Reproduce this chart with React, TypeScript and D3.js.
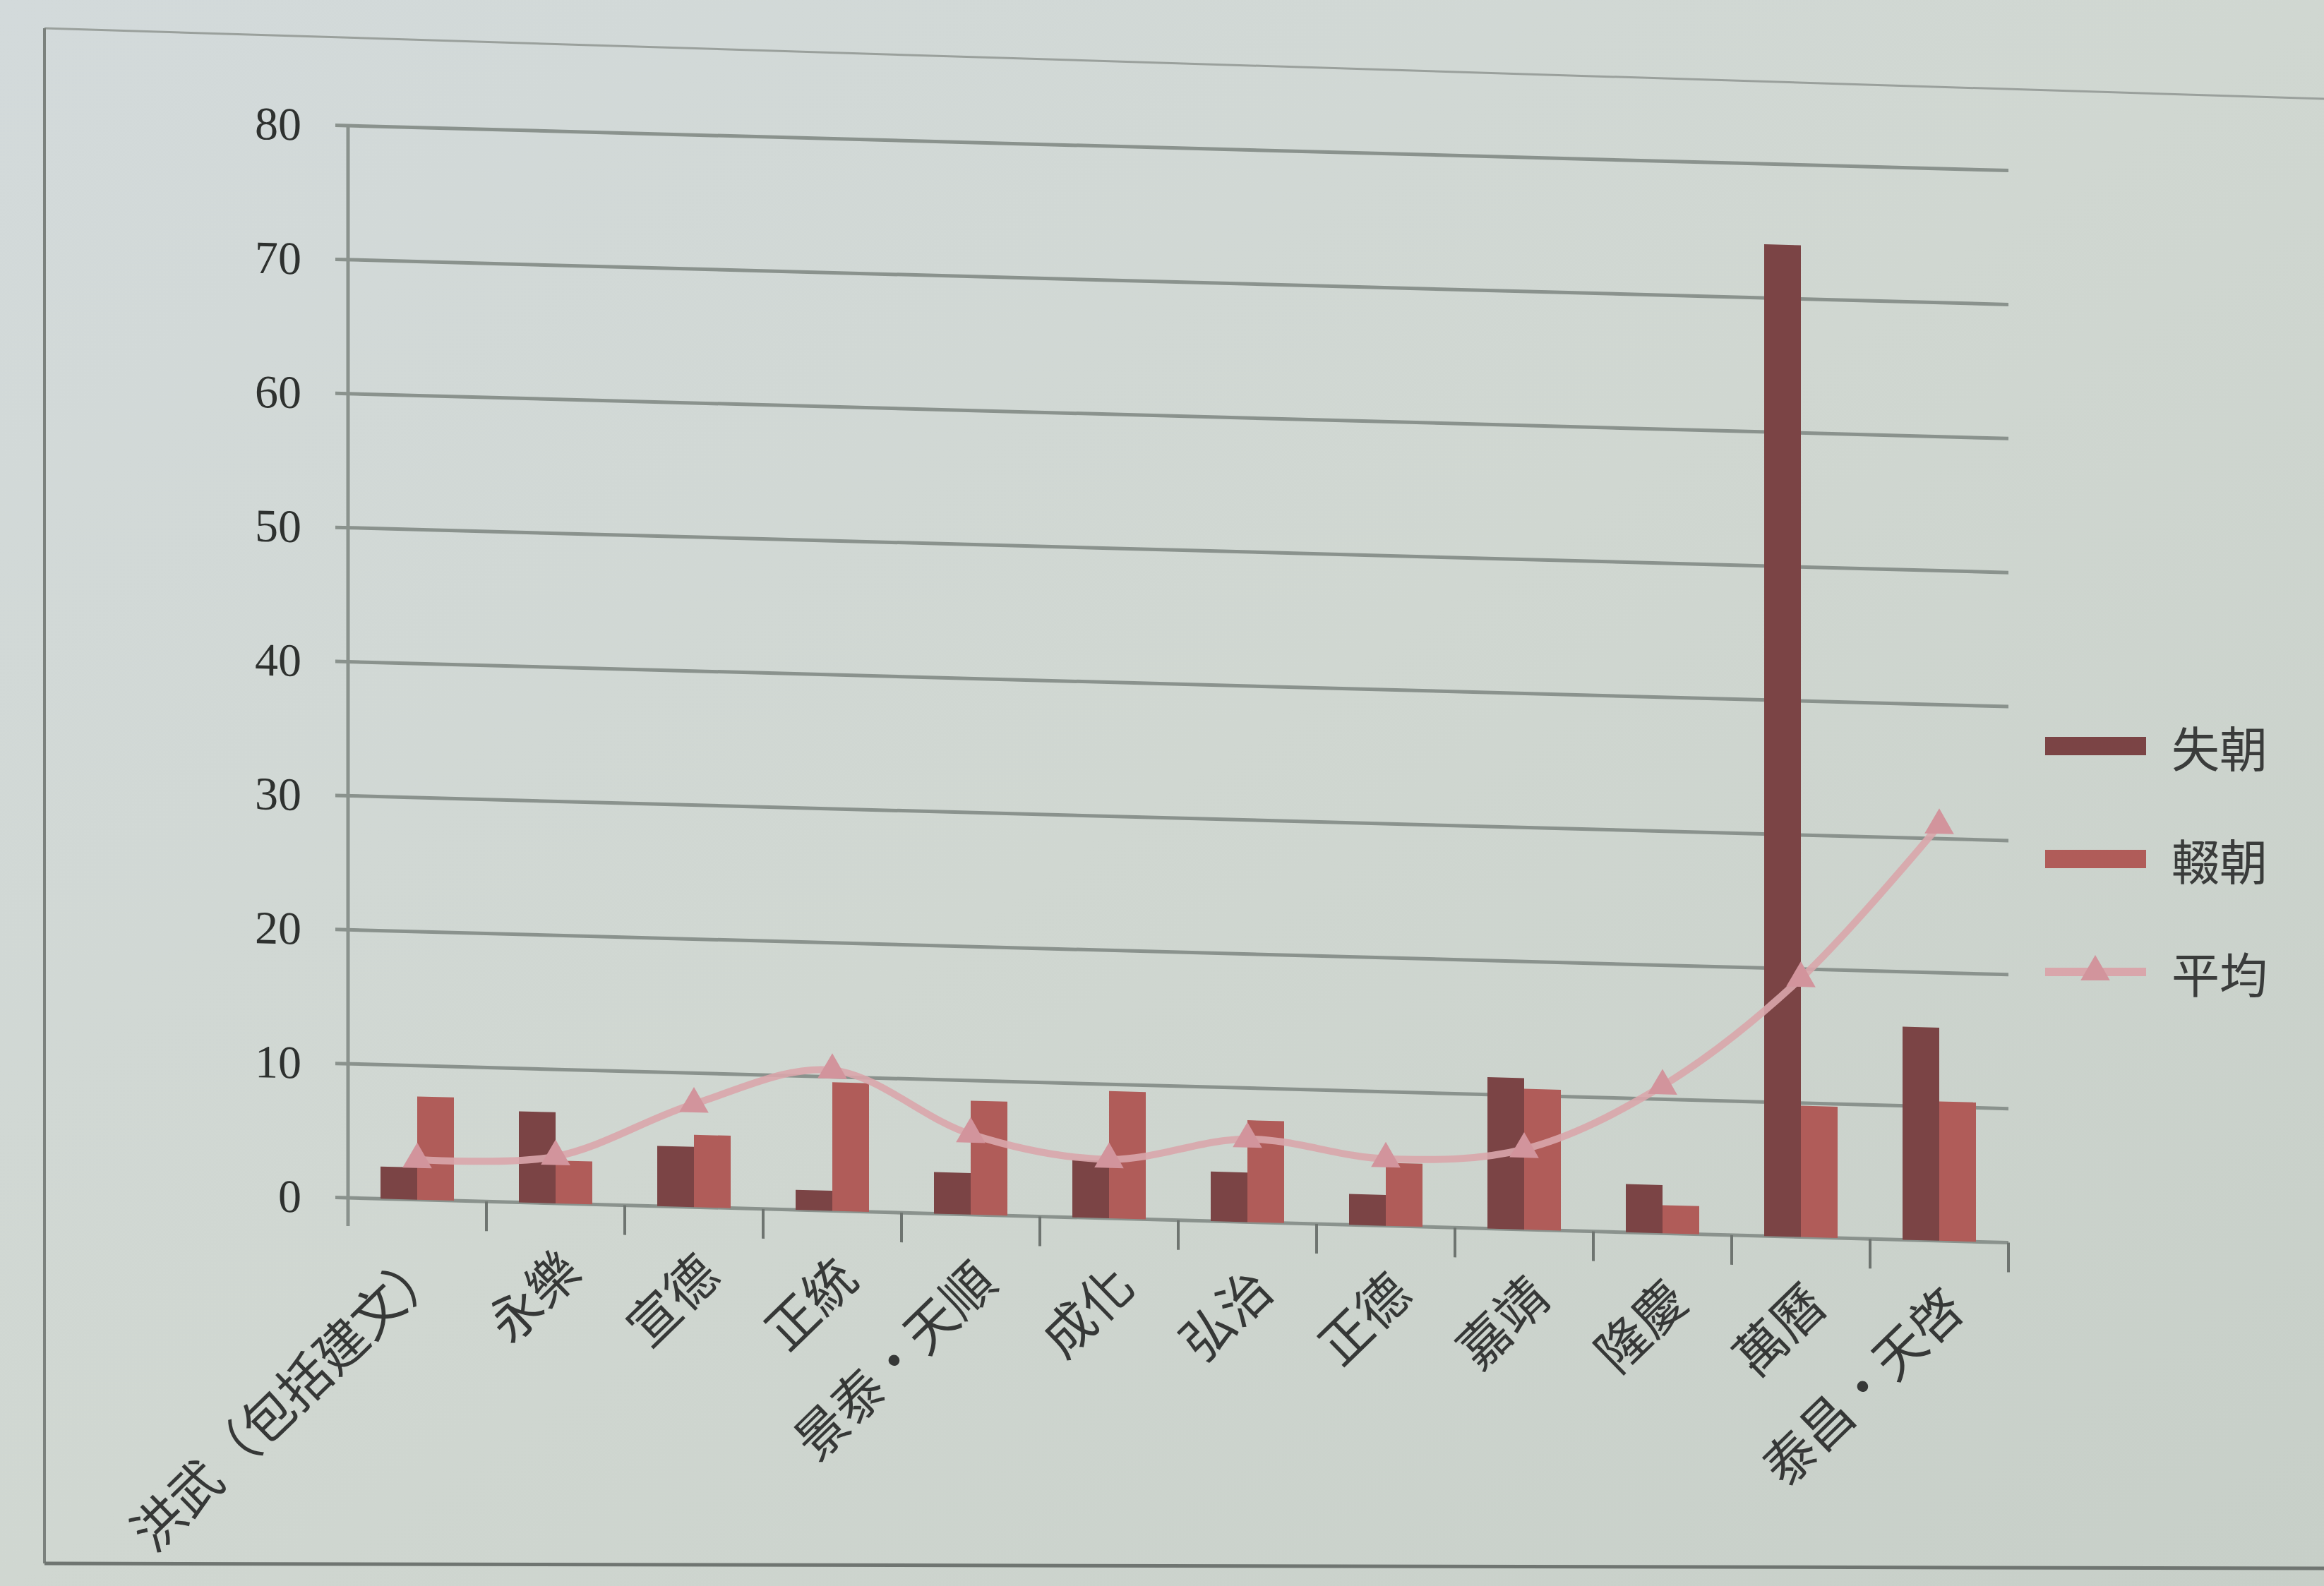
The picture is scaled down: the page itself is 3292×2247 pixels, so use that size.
import React from 'react';
import * as d3 from 'd3';

const categories = ['洪武（包括建文）', '永樂', '宣德', '正統', '景泰・天順', '成化', '弘治', '正德', '嘉靖', '隆慶', '萬曆', '泰昌・天啓'];
const seriesNames = ['失朝', '輟朝', '平均'];
const seriesA = [2.4, 6.8, 4.5, 1.5, 3.1, 4.3, 3.7, 2.3, 11.3, 3.6, 74, 15.9];
const seriesB = [7.7, 3.2, 5.4, 9.6, 8.5, 9.5, 7.6, 4.7, 10.5, 2.1, 9.8, 10.4];
const average = [3.0, 3.5, 7.7, 10.5, 6.0, 4.4, 6.2, 5.0, 6.0, 11.0, 19.3, 31.0];
const yTicks = [0, 10, 20, 30, 40, 50, 60, 70, 80];

const W = 3292;
const H = 2247;
const PLOT_LEFT = 493;
const PLOT_W = 2352;
const SKEW = 0.027;

const COLOR_A = '#7b4445';
const COLOR_B = '#b05c59';
const COLOR_AVG = '#d9a6ab';
const COLOR_MARK = '#d2949c';
const GRID = '#8a928d';

export default function App() {
  const x = d3.scaleBand<string>().domain(categories).range([0, PLOT_W]);
  const inner = d3.scaleBand<string>().domain(['a', 'b']).range([0, 104]);
  const y = d3.scaleLinear().domain([0, 80]).range([1697, 178]);
  const cx = (c: string) => (x(c) as number) + x.bandwidth() / 2;

  const line = d3
    .line<number>()
    .x((_, i) => cx(categories[i]))
    .y((d) => y(d))
    .curve(d3.curveCatmullRom.alpha(0.5));
  const tri = d3.symbol().type(d3.symbolTriangle).size(750)();

  const base = y(0);
  return (
    <svg width={W} height={H} style={{ position: 'absolute', left: 0, top: 0 }} xmlns="http://www.w3.org/2000/svg">
      <defs>
        <linearGradient id="bg" x1="0" y1="0" x2="1" y2="1">
          <stop offset="0" stopColor="#d3dadb" />
          <stop offset="0.5" stopColor="#d0d7d1" />
          <stop offset="1" stopColor="#c7cfc8" />
        </linearGradient>
      </defs>
      <rect x={0} y={0} width={W} height={H} fill="url(#bg)" />
      {/* photo frame lines */}
      <line x1={63} y1={40} x2={3292} y2={140} stroke="#9aa09c" strokeWidth={3} />
      <line x1={63} y1={40} x2={63} y2={2215} stroke="#7b817d" strokeWidth={4} />
      <line x1={63} y1={2215} x2={3292} y2={2222} stroke="#6f7571" strokeWidth={5} />

      <g transform={`matrix(1, ${SKEW}, 0, 1, ${PLOT_LEFT}, 0)`}>
        {yTicks.map((t) => (
          <g key={t}>
            <line x1={-18} x2={PLOT_W} y1={y(t)} y2={y(t)} stroke={GRID} strokeWidth={5} />
            <text
              x={-66}
              y={y(t)}
              textAnchor="end"
              dominantBaseline="central"
              fontFamily="'Liberation Serif', serif"
              fontSize={66}
              fill="#2e312f"
            >
              {t}
            </text>
          </g>
        ))}
        <line x1={0} x2={0} y1={y(80)} y2={base + 40} stroke={GRID} strokeWidth={5} />
        {categories.map((c, i) => (
          <line key={'t' + i} x1={(x(c) as number) + x.bandwidth()} x2={(x(c) as number) + x.bandwidth()} y1={base} y2={base + 42} stroke="#6e7470" strokeWidth={4} />
        ))}
        {categories.map((c, i) => {
          const x0 = cx(c) - 52;
          return (
            <g key={'b' + i}>
              <rect x={x0 + (inner('a') as number)} y={y(seriesA[i])} width={inner.bandwidth()} height={base - y(seriesA[i])} fill={COLOR_A} />
              <rect x={x0 + (inner('b') as number)} y={y(seriesB[i])} width={inner.bandwidth()} height={base - y(seriesB[i])} fill={COLOR_B} />
            </g>
          );
        })}
        <path d={line(average) || ''} fill="none" stroke={COLOR_AVG} strokeWidth={10} strokeOpacity={0.9} />
        {average.map((v, i) => (
          <path key={'m' + i} d={tri || ''} transform={`translate(${cx(categories[i])},${y(v)})`} fill={COLOR_MARK} />
        ))}
        {categories.map((c, i) => (
          <text
            key={'l' + i}
            transform={`translate(${cx(c) + 40},${base + 100}) rotate(-45)`}
            textAnchor="end"
            fontFamily="'Noto Sans CJK TC', 'Noto Sans CJK SC', sans-serif"
            fontSize={73}
            fill="#363837"
          >
            {c}
          </text>
        ))}
      </g>

      {/* legend */}
      <g>
        {[0, 1].map((k) => (
          <g key={k}>
            <rect x={2897} y={1044 + k * 160} width={143} height={26} fill={k === 0 ? COLOR_A : COLOR_B} />
            <text x={3076} y={1057 + k * 160} dominantBaseline="central" fontFamily="'Noto Sans CJK TC', sans-serif" fontSize={68} fill="#3a3c3b">
              {seriesNames[k]}
            </text>
          </g>
        ))}
        <line x1={2897} x2={3040} y1={1377} y2={1377} stroke={COLOR_AVG} strokeWidth={12} />
        <path d={tri || ''} transform="translate(2968,1377)" fill={COLOR_MARK} />
        <text x={3076} y={1377} dominantBaseline="central" fontFamily="'Noto Sans CJK TC', sans-serif" fontSize={68} fill="#3a3c3b">
          {seriesNames[2]}
        </text>
      </g>
    </svg>
  );
}
